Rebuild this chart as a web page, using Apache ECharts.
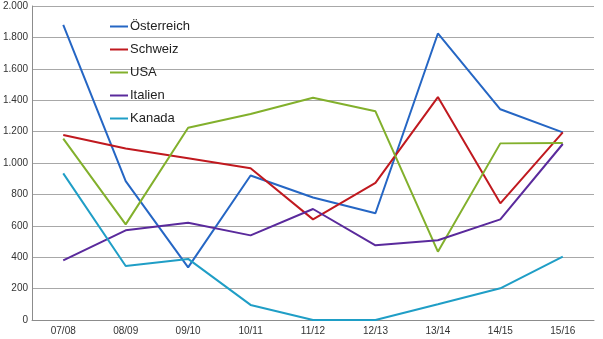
<!DOCTYPE html>
<html>
<head>
<meta charset="utf-8">
<script src="https://cdn.jsdelivr.net/npm/echarts@6/dist/echarts.min.js"></script>
<style>
  html, body { margin: 0; padding: 0; background: #fff; }
  #chart { width: 603px; height: 339px; }
</style>
</head>
<body>
<div id="chart"></div>
<script>
// Seasons on the category axis
const seasons = ['07/08', '08/09', '09/10', '10/11', '11/12', '12/13', '13/14', '14/15', '15/16'];

// Values per country and season
const oesterreich = [1880, 885, 335, 920, 780, 680, 1825, 1342, 1195];
const schweiz     = [1178, 1093, 1030, 966, 641, 873, 1420, 743, 1195];
const usa         = [1155, 609, 1225, 1312, 1416, 1329, 435, 1125, 1127];
const italien     = [380, 571, 620, 539, 707, 476, 508, 641, 1121];
const kanada      = [934, 344, 389, 96, 0, 0, 100, 202, 403];

// Y axis ticks
const yMin = 0, yMax = 2000, yStep = 200;

const seriesDefs = [
  { name: 'Österreich', data: oesterreich, color: '#2566c4' },
  { name: 'Schweiz',    data: schweiz,     color: '#c0191f' },
  { name: 'USA',        data: usa,         color: '#82b02c' },
  { name: 'Italien',    data: italien,     color: '#5a2a9c' },
  { name: 'Kanada',     data: kanada,      color: '#1f9ec6' }
];

const fmt = v => String(v).replace(/\B(?=(\d{3})+(?!\d))/g, '.');

const chart = echarts.init(document.getElementById('chart'), null, { renderer: 'canvas' });
chart.setOption({
  animation: false,
  backgroundColor: '#ffffff',
  grid: { left: 28, right: 9, top: 6, bottom: 19, containLabel: false },
  legend: {
    orient: 'vertical',
    left: 110,
    top: 19,
    padding: 0,
    icon: 'rect',
    itemWidth: 18,
    itemHeight: 2,
    itemGap: 8,
    textStyle: { fontFamily: 'Liberation Sans', fontSize: 13, lineHeight: 15, color: '#222', padding: [0, 0, 0, -3] },
    data: seriesDefs.map(s => s.name)
  },
  xAxis: {
    type: 'category',
    data: seasons,
    boundaryGap: true,
    axisLine: { lineStyle: { color: '#8c8c8c', width: 1 } },
    axisTick: { show: false },
    axisLabel: { fontFamily: 'Liberation Sans', fontSize: 10, color: '#333', margin: 6 },
    splitLine: { show: false }
  },
  yAxis: {
    type: 'value',
    min: yMin,
    max: yMax,
    interval: yStep,
    axisLine: { show: true, lineStyle: { color: '#8c8c8c', width: 1 } },
    axisTick: { show: false },
    axisLabel: { fontFamily: 'Liberation Sans', fontSize: 10, color: '#333', margin: 4, formatter: fmt },
    splitLine: { show: true, lineStyle: { color: '#a8a8a8', width: 1 } }
  },
  series: seriesDefs.map(s => ({
    name: s.name,
    type: 'line',
    data: s.data,
    symbol: 'none',
    color: s.color,
    lineStyle: { color: s.color, width: 2 },
    itemStyle: { color: s.color }
  }))
});
</script>
</body>
</html>
